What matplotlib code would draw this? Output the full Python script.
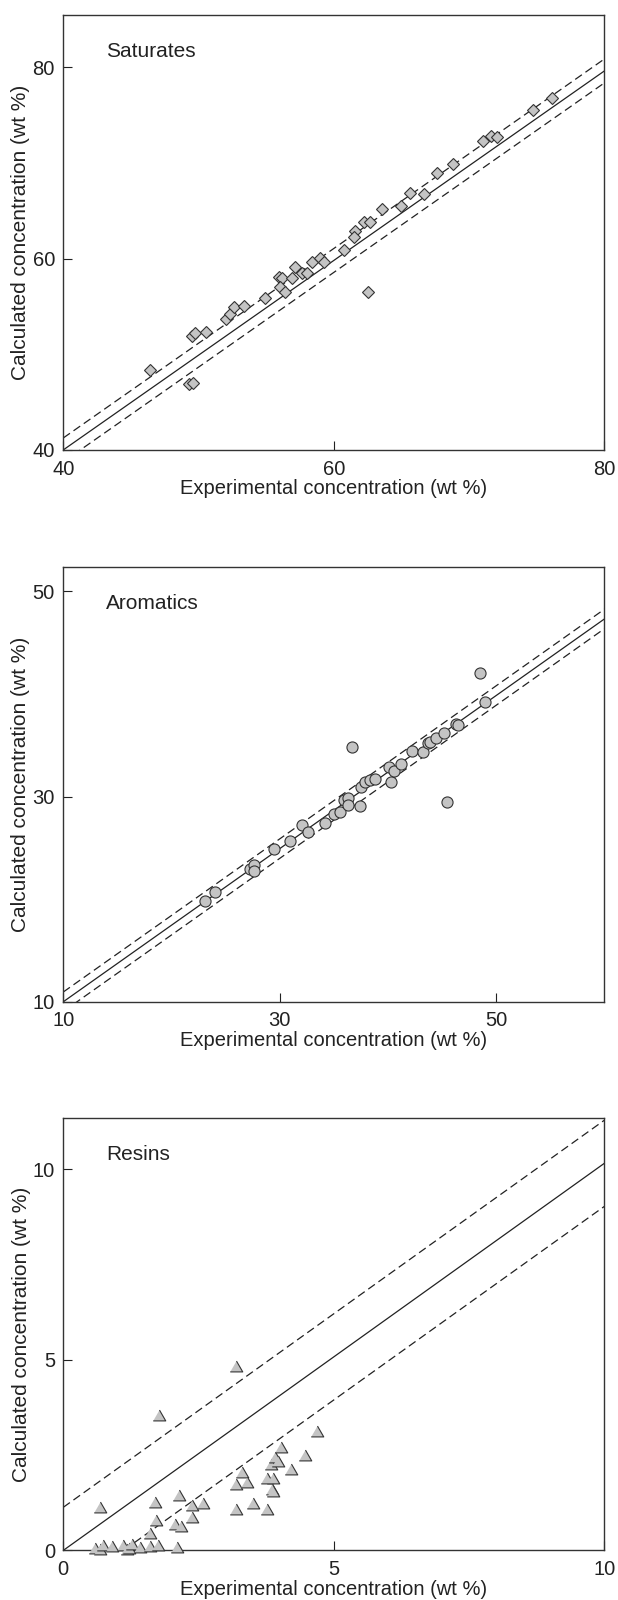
import matplotlib
matplotlib.use('Agg')
import matplotlib.pyplot as plt
import numpy as np

plt.rcParams['font.family'] = ['Liberation Sans', 'DejaVu Sans']

# ---- Saturates (wt %) ----
sat_exp = [46.39, 49.29, 49.58, 49.50, 49.76, 50.55, 52.03, 52.34, 52.60, 53.34,
           54.90, 55.95, 56.20, 56.00, 56.40, 56.92, 57.13, 57.66, 58.05, 58.40,
           58.97, 59.29, 60.76, 61.55, 61.47, 62.26, 62.71, 62.55, 63.60, 64.97,
           65.60, 66.66, 67.60, 68.79, 71.03, 71.66, 72.08, 74.71, 76.13]
sat_calc = [48.34, 46.88, 47.02, 51.90, 52.18, 52.36, 53.65, 54.20, 54.90, 55.04,
            55.90, 58.10, 57.94, 57.00, 56.50, 57.94, 59.16, 58.53, 58.46, 59.69,
            60.03, 59.69, 60.90, 62.83, 62.30, 63.87, 63.87, 56.51, 65.17, 65.45,
            66.90, 66.77, 68.94, 69.90, 72.25, 72.84, 72.67, 75.57, 76.79]
sat_fit = [0.99, 0.4, 1.25]   # slope, intercept, band half width
sat_lim_x = [40, 80]
sat_lim_y = [40, 85.5]
sat_ticks = [40, 60, 80]

# ---- Aromatics (wt %) ----
aro_exp = [23.14, 24.03, 27.25, 27.64, 27.64, 29.45, 30.93, 32.08, 32.64, 34.21,
           35.03, 35.53, 35.95, 36.28, 36.28, 36.68, 37.40, 37.50, 37.92, 38.32,
           38.81, 40.13, 40.29, 40.52, 41.21, 42.26, 43.25, 43.74, 43.90, 44.49,
           45.22, 46.27, 46.47, 45.48, 48.50, 48.99]
aro_calc = [19.83, 20.72, 22.96, 23.29, 22.73, 24.87, 25.66, 27.24, 26.58, 27.47,
            28.30, 28.50, 29.62, 29.82, 29.22, 34.83, 29.06, 30.94, 31.37, 31.60,
            31.69, 32.91, 31.37, 32.52, 33.18, 34.40, 34.33, 35.22, 35.32, 35.72,
            36.21, 37.07, 36.97, 29.49, 42.01, 39.18]
aro_fit = [0.746, 2.54, 0.95]
aro_lim_x = [10, 60]
aro_lim_y = [10, 52.4]
aro_ticks = [10, 30, 50]

# ---- Resins (wt %) ----
res_exp = [0.68, 0.59, 0.67, 0.74, 0.90, 1.10, 1.18, 1.21, 1.27, 1.41,
           1.60, 1.60, 1.71, 1.69, 1.75, 1.77, 2.06, 2.18, 2.10, 2.14,
           2.38, 2.38, 2.59, 3.19, 3.19, 3.30, 3.39, 3.20, 3.50, 3.76,
           3.77, 3.88, 3.86, 3.88, 3.84, 3.92, 3.97, 4.03, 4.20, 4.47, 4.69]
res_calc = [1.15, 0.07, 0.03, 0.13, 0.12, 0.13, 0.03, 0.07, 0.16, 0.10,
            0.12, 0.46, 0.79, 1.26, 0.13, 3.54, 0.68, 0.64, 0.10, 1.44,
            0.88, 1.18, 1.24, 1.09, 1.73, 2.05, 1.80, 4.84, 1.23, 1.09,
            1.89, 1.89, 1.60, 1.55, 2.27, 2.45, 2.34, 2.72, 2.13, 2.49, 3.14]
res_fit = [1.015, 0.0, 1.13]
res_lim_x = [0, 10]
res_lim_y = [0, 11.35]
res_ticks = [0, 5, 10]

# equilateral triangle marker
tri = [(-1, -0.866), (1, -0.866), (0, 0.866)]

panels = [
    ('Saturates', sat_exp, sat_calc, sat_fit, sat_lim_x, sat_lim_y, sat_ticks, 'D', 6.0),
    ('Aromatics', aro_exp, aro_calc, aro_fit, aro_lim_x, aro_lim_y, aro_ticks, 'o', 8.0),
    ('Resins', res_exp, res_calc, res_fit, res_lim_x, res_lim_y, res_ticks, tri, 9.0),
]

fig = plt.figure(figsize=(6.18, 16), dpi=100)
# axes boxes in figure fractions (left, bottom, width, height)
boxes = [[0.1024, 0.7188, 0.8754, 0.2721],
         [0.1024, 0.3739, 0.8754, 0.2719],
         [0.1024, 0.0310, 0.8754, 0.2705]]

ink = '#222222'
for box, (name, xs, ys, fit, xl, yl, ticks, mk, ms) in zip(boxes, panels):
    ax = fig.add_axes(box)
    slope, icpt, band = fit
    lx = np.array(xl, dtype=float)
    ax.plot(lx, slope * lx + icpt, color=ink, lw=0.9, zorder=2)
    for off in (band, -band):
        ax.plot(lx, slope * lx + icpt + off, color=ink, lw=0.9,
                dashes=(6.5, 3.5), zorder=2)
    ax.plot(xs, ys, linestyle='none', marker=mk, markersize=ms,
            markerfacecolor='#c4c4c4', markeredgecolor='#333333',
            markeredgewidth=0.8, zorder=3, clip_on=False)

    ax.set_xlim(xl)
    ax.set_ylim(yl)
    ax.set_xticks(ticks)
    ax.set_yticks(ticks)
    ax.tick_params(direction='in', length=6.5, width=0.8, color=ink,
                   labelsize=14.5, labelcolor=ink, top=False, right=False)
    ax.tick_params(axis='x', pad=7)
    ax.tick_params(axis='y', pad=6)
    for sp in ax.spines.values():
        sp.set_linewidth(1.0)
        sp.set_color('#333333')

    ax.text(0.079, 0.937, name, transform=ax.transAxes, fontsize=15,
            color=ink, ha='left', va='top')
    ax.set_xlabel('Experimental concentration (wt %)', fontsize=14.5,
                  color=ink, labelpad=0.5)
    ax.set_ylabel('Calculated concentration (wt %)', fontsize=15,
                  color=ink, labelpad=1.5)

fig.savefig('out.png', dpi=100)
